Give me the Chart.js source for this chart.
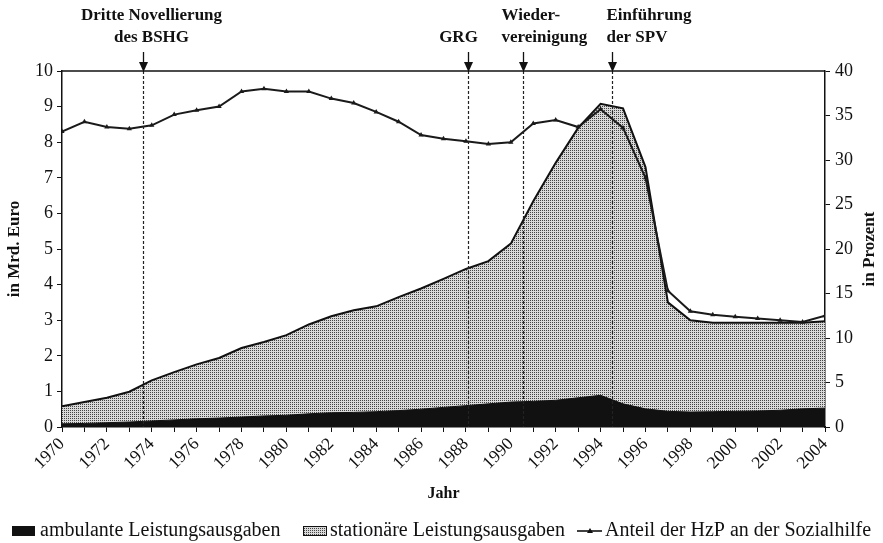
<!DOCTYPE html>
<html>
<head>
<meta charset="utf-8">
<script src="https://cdn.jsdelivr.net/npm/chart.js@4.4.1/dist/chart.umd.min.js"></script>
<style>
	html, body { margin: 0; padding: 0; background: #fff; }
	#wrap { width: 883px; height: 543px; }
</style>
</head>
<body>
<div id="wrap"><canvas id="chart" width="883" height="543"></canvas></div>
<script>
// data
const years = [1970, 1971, 1972, 1973, 1974, 1975, 1976, 1977, 1978, 1979,
	1980, 1981, 1982, 1983, 1984, 1985, 1986, 1987, 1988, 1989,
	1990, 1991, 1992, 1993, 1994, 1995, 1996, 1997, 1998, 1999,
	2000, 2001, 2002, 2003, 2004];

// in Mrd. Euro
const ambulant = [0.09, 0.10, 0.12, 0.14, 0.17, 0.20, 0.23, 0.25, 0.28, 0.31,
	0.33, 0.37, 0.40, 0.41, 0.43, 0.46, 0.50, 0.55, 0.60, 0.65,
	0.70, 0.72, 0.75, 0.82, 0.89, 0.65, 0.51, 0.44, 0.42, 0.43,
	0.44, 0.45, 0.47, 0.51, 0.53];
const stationaer = [0.49, 0.60, 0.70, 0.85, 1.14, 1.34, 1.53, 1.69, 1.94, 2.08,
	2.25, 2.51, 2.71, 2.87, 2.96, 3.19, 3.39, 3.61, 3.84, 4.01,
	4.45, 5.62, 6.67, 7.58, 8.19, 8.30, 6.79, 3.06, 2.58, 2.50,
	2.49, 2.48, 2.46, 2.42, 2.44];

// in Prozent
const anteil = [33.2, 34.3, 33.7, 33.5, 33.9, 35.1, 35.6, 36.0, 37.7, 38.0,
	37.7, 37.7, 36.9, 36.4, 35.4, 34.3, 32.8, 32.4, 32.1, 31.8,
	32.0, 34.1, 34.5, 33.7, 35.7, 33.6, 28.0, 15.3, 13.0, 12.6,
	12.4, 12.2, 12.0, 11.8, 12.5];

const leftTicks = [0, 1, 2, 3, 4, 5, 6, 7, 8, 9, 10];
const rightTicks = [0, 5, 10, 15, 20, 25, 30, 35, 40];
const yearTicks = years;
const yearLabels = years.filter(y => y % 2 === 0);

const events = [
	{ year: 1973.6, lines: ['Dritte Novellierung', 'des BSHG'] },
	{ year: 1988.1, lines: ['GRG'] },
	{ year: 1990.55, lines: ['Wieder-', 'vereinigung'] },
	{ year: 1994.5, lines: ['Einführung', 'der SPV'] }
];
// where the event text sits relative to its arrow
const eventTextStyle = [
	{ align: 'center', dx: 8 },
	{ align: 'center', dx: -10 },
	{ align: 'left', dx: -22 },
	{ align: 'left', dx: -6 }
];

const legendItems = ['ambulante Leistungsausgaben', 'stationäre Leistungsausgaben', 'Anteil der HzP an der Sozialhilfe'];

const SERIF = '"Liberation Serif", "Times New Roman", serif';

// stipple pattern for the stationary area
function makeStipple() {
	const c = document.createElement('canvas');
	c.width = 2; c.height = 2;
	const g = c.getContext('2d');
	g.fillStyle = '#d9d9d9';
	g.fillRect(0, 0, 2, 2);
	g.fillStyle = '#444';
	g.fillRect(0, 0, 1, 1);
	return g.createPattern(c, 'repeat');
}

const ctx = document.getElementById('chart').getContext('2d');
const stipple = makeStipple();

const eventsPlugin = {
	id: 'events',
	afterDatasetsDraw(chart) {
		const {ctx, chartArea: a, scales: {x}} = chart;
		ctx.save();
		// dashed event lines
		ctx.strokeStyle = '#222';
		ctx.lineWidth = 1.2;
		ctx.setLineDash([3, 2]);
		events.forEach(ev => {
			const px = Math.round(x.getPixelForValue(ev.year)) + 0.5;
			ctx.beginPath();
			ctx.moveTo(px, a.top);
			ctx.lineTo(px, a.bottom);
			ctx.stroke();
		});
		ctx.setLineDash([]);

		// frame top
		ctx.strokeStyle = '#111';
		ctx.lineWidth = 1.5;
		ctx.beginPath();
		ctx.moveTo(a.left, a.top);
		ctx.lineTo(a.right, a.top);
		ctx.stroke();

		// arrows and text
		ctx.fillStyle = '#111';
		ctx.font = 'bold 17px ' + SERIF;
		ctx.textBaseline = 'middle';
		events.forEach((ev, i) => {
			const px = Math.round(x.getPixelForValue(ev.year)) + 0.5;
			ctx.lineWidth = 1.3;
			ctx.beginPath();
			ctx.moveTo(px, a.top - 19);
			ctx.lineTo(px, a.top - 7);
			ctx.stroke();
			ctx.beginPath();
			ctx.moveTo(px - 4.5, a.top - 9);
			ctx.lineTo(px + 4.5, a.top - 9);
			ctx.lineTo(px, a.top + 1);
			ctx.closePath();
			ctx.fill();

			const st = eventTextStyle[i];
			ctx.textAlign = st.align;
			const rows = ev.lines.length === 1 ? [null, ev.lines[0]] : ev.lines;
			rows.forEach((t, r) => {
				if (t) ctx.fillText(t, px + st.dx, 16 + r * 22);
			});
		});
		ctx.restore();
	},
	afterDraw(chart) {
		const {ctx, chartArea: a} = chart;
		ctx.save();
		// right axis title, reading upwards
		ctx.fillStyle = '#111';
		ctx.font = 'bold 17px ' + SERIF;
		ctx.textAlign = 'center';
		ctx.textBaseline = 'middle';
		ctx.translate(870, (a.top + a.bottom) / 2);
		ctx.rotate(-Math.PI / 2);
		ctx.fillText('in Prozent', 0, 0);
		ctx.restore();

		// legend
		ctx.save();
		const ly = 531;
		ctx.font = '20px ' + SERIF;
		ctx.textBaseline = 'middle';
		ctx.textAlign = 'left';
		ctx.fillStyle = '#111';
		ctx.fillRect(12, ly - 5, 23, 10);
		ctx.fillText(legendItems[0], 40, ly);

		ctx.fillStyle = stipple;
		ctx.fillRect(303, ly - 5, 24, 10);
		ctx.strokeStyle = '#111';
		ctx.lineWidth = 1;
		ctx.strokeRect(303.5, ly - 4.5, 23, 9);
		ctx.fillStyle = '#111';
		ctx.fillText(legendItems[1], 330, ly);

		ctx.lineWidth = 1.6;
		ctx.beginPath();
		ctx.moveTo(577, ly);
		ctx.lineTo(602, ly);
		ctx.stroke();
		ctx.beginPath();
		ctx.moveTo(590, ly - 3);
		ctx.lineTo(593, ly + 2);
		ctx.lineTo(587, ly + 2);
		ctx.closePath();
		ctx.fill();
		ctx.fillText(legendItems[2], 605, ly);
		ctx.restore();
	}
};

const chart = new Chart(ctx, {
	type: 'line',
	data: {
		labels: years,
		datasets: [
			{
				label: legendItems[0],
				data: ambulant,
				yAxisID: 'y',
				backgroundColor: '#111',
				borderColor: '#111',
				borderWidth: 1,
				fill: 'origin',
				pointRadius: 0,
				order: 1
			},
			{
				label: legendItems[1],
				data: stationaer,
				yAxisID: 'y',
				backgroundColor: stipple,
				borderColor: '#111',
				borderWidth: 2,
				fill: '-1',
				pointRadius: 0,
				order: 1
			},
			{
				label: legendItems[2],
				data: anteil,
				yAxisID: 'y1',
				borderColor: '#1a1a1a',
				backgroundColor: '#1a1a1a',
				borderWidth: 2,
				fill: false,
				pointStyle: 'triangle',
				pointRadius: 3,
				pointBackgroundColor: '#1a1a1a',
				pointBorderWidth: 0,
				order: 0
			}
		]
	},
	options: {
		responsive: false,
		animation: false,
		devicePixelRatio: 1,
		layout: { padding: { top: 71, left: 0, right: 0, bottom: 0 } },
		plugins: {
			legend: { display: false },
			tooltip: { enabled: false }
		},
		elements: { line: { tension: 0 } },
		scales: {
			x: {
				type: 'linear',
				min: 1970,
				max: 2004,
				afterBuildTicks: scale => { scale.ticks = yearTicks.map(v => ({ value: v })); },
				afterFit: scale => { scale.height = 116; },
				ticks: {
					autoSkip: false,
					maxRotation: 45,
					minRotation: 45,
					padding: 2,
					color: '#111',
					font: { family: SERIF, size: 17.5 },
					callback: v => yearLabels.includes(v) ? String(v) : ''
				},
				grid: { drawOnChartArea: false, tickLength: 5, color: '#111', lineWidth: 1 },
				border: { color: '#111', width: 1.5 },
				title: {
					display: true,
					text: 'Jahr',
					color: '#111',
					font: { family: SERIF, size: 16, weight: 'bold' },
					padding: { top: 0, bottom: 40 }
				}
			},
			y: {
				position: 'left',
				stacked: true,
				min: 0,
				max: 10,
				afterBuildTicks: scale => { scale.ticks = leftTicks.map(v => ({ value: v })); },
				afterFit: scale => { scale.width = 62; },
				ticks: {
					padding: 4,
					color: '#111',
					font: { family: SERIF, size: 18 }
				},
				grid: { drawOnChartArea: false, tickLength: 5, color: '#111', lineWidth: 1 },
				border: { color: '#111', width: 1.5 },
				title: {
					display: true,
					text: 'in Mrd. Euro',
					color: '#111',
					font: { family: SERIF, size: 17, weight: 'bold' },
					padding: { top: 4, bottom: 0 }
				}
			},
			y1: {
				position: 'right',
				min: 0,
				max: 40,
				afterBuildTicks: scale => { scale.ticks = rightTicks.map(v => ({ value: v })); },
				afterFit: scale => { scale.width = 58; },
				ticks: {
					padding: 5,
					color: '#111',
					font: { family: SERIF, size: 18 }
				},
				grid: { drawOnChartArea: false, tickLength: 5, color: '#111', lineWidth: 1 },
				border: { color: '#111', width: 1.5 }
			}
		}
	},
	plugins: [eventsPlugin]
});
</script>
</body>
</html>
